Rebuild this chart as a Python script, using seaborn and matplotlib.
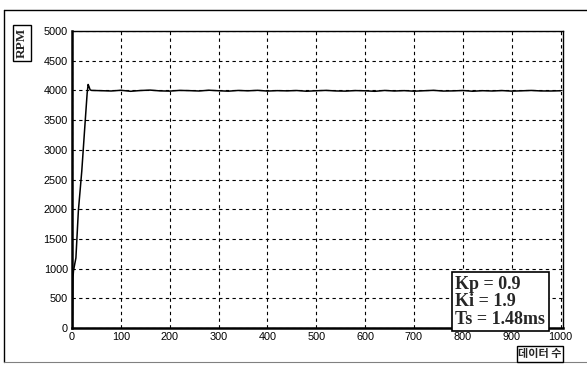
import numpy as np
import pandas as pd
import matplotlib
matplotlib.use("Agg")
import matplotlib.pyplot as plt
from matplotlib.lines import Line2D
import seaborn as sns

# rise of the motor speed (sample index, rpm)
rise_x = [0, 1, 2, 3, 5, 8, 13, 20, 27, 31, 33, 35, 37, 40]
rise_y = [0, 0, 840, 960, 1050, 1180, 1970, 2640, 3480, 3950, 4100, 4060, 4010, 4000]

# steady state, read every 20 samples
steady_x = list(range(60, 1001, 20))
steady_y = [3995, 3990, 4002, 3985, 3998, 4005, 3992, 3988, 4000, 3996,
            3990, 4003, 3994, 3987, 3999, 3993, 4001, 3989, 3996, 3992,
            3998, 3986, 3994, 4000, 3991, 3988, 3997, 3993, 3985, 3999,
            3990, 3996, 3987, 3994, 4001, 3989, 3992, 3998, 3986, 3995,
            3990, 3997, 3988, 3993, 3999, 3991, 3990, 3994]

xticks = list(range(0, 1001, 100))
yticks = list(range(0, 5001, 500))

df = pd.DataFrame({"n": rise_x + steady_x, "rpm": rise_y + steady_y})

sns.set_theme(style="white")
plt.rcParams["font.family"] = ["Liberation Sans", "Noto Sans CJK KR", "DejaVu Sans"]

fig = plt.figure(figsize=(5.87, 3.65), dpi=100)
ax = fig.add_axes([72 / 587, 37 / 365, 491 / 587, 297 / 365])

sns.lineplot(data=df, x="n", y="rpm", ax=ax, color="black", linewidth=1.1,
             estimator=None, sort=False)

ax.set_xlim(0, 1005)
ax.set_ylim(0, 5000)
ax.set_xticks(xticks)
ax.set_yticks(yticks)
ax.set_xlabel("")
ax.set_ylabel("")
ax.tick_params(axis="both", length=0, labelsize=7.8, colors="black", pad=3)
ax.grid(True, color="black", linestyle=(0, (3, 3)), linewidth=0.8)
for side, sp in ax.spines.items():
    sp.set_color("black")
    sp.set_linewidth(1.0)
ax.spines["left"].set_linewidth(1.8)
ax.spines["bottom"].set_linewidth(1.8)

# parameter box
ax.text(0.781, 0.175, "Kp = 0.9\nKi = 1.9\nTs = 1.48ms", transform=ax.transAxes,
        ha="left", va="top", fontsize=13, fontweight="bold",
        family="Liberation Serif", linespacing=1.02,
        bbox=dict(boxstyle="square,pad=0.2", facecolor="white",
                  edgecolor="black", linewidth=1.2))

# axis name boxes
fig.text(22 / 587, 1 - 43 / 365, "RPM", rotation=90, ha="center", va="center",
         fontsize=9.5, fontweight="bold", family="Liberation Serif",
         bbox=dict(boxstyle="square,pad=0.25", facecolor="white",
                   edgecolor="black", linewidth=1.0))
fig.text(540 / 587, 1 - 354 / 365, "데이터 수", ha="center", va="center",
         fontsize=8, fontweight="bold", family=["Noto Sans CJK KR", "DejaVu Sans"],
         bbox=dict(boxstyle="square,pad=0.1", facecolor="white",
                   edgecolor="black", linewidth=1.0))

# outer frame
fig.add_artist(Line2D([4 / 587, 587 / 587], [1 - 10 / 365, 1 - 10 / 365],
                      color="black", linewidth=1.0, transform=fig.transFigure))
fig.add_artist(Line2D([4 / 587, 4 / 587], [1 - 10 / 365, 1 - 362 / 365],
                      color="black", linewidth=1.0, transform=fig.transFigure))
fig.add_artist(Line2D([4 / 587, 587 / 587], [1 - 362 / 365, 1 - 362 / 365],
                      color="gray", linewidth=0.8, transform=fig.transFigure))

fig.savefig("out.png", dpi=100)
